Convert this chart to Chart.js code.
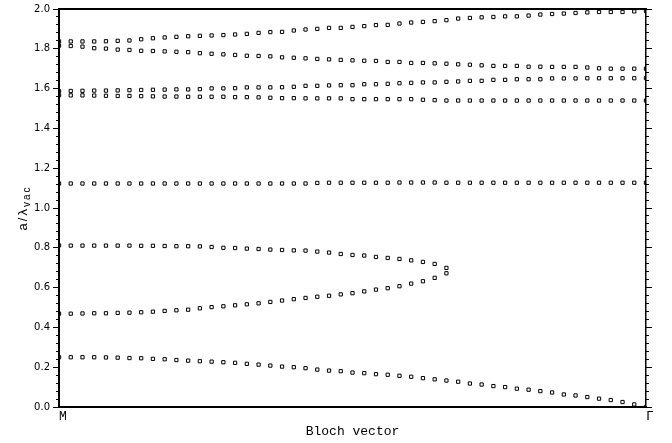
<!DOCTYPE html>
<html>
<head>
<meta charset="utf-8">
<script src="https://cdn.jsdelivr.net/npm/chart.js@4.4.1/dist/chart.umd.min.js"></script>
<style>
  html, body { margin: 0; padding: 0; background: #fff; }
  canvas { display: block; }
</style>
</head>
<body>
<canvas id="bands" width="672" height="443"></canvas>
<script>
// Sample positions along the Brillouin-zone path, M (0) to Γ (50)
const kPoints = Array.from({ length: 51 }, (_, i) => i);
const kEndLabels = ['M', 'Γ'];
const xTitle = 'Bloch vector';
const yTitleMain = 'a/λ';
const yTitleSub = 'vac';
const yMajorStep = 0.2;
const yMinorStep = 0.04;

// Normalised frequency a/λ_vac of each band at every k sample
const band1 = [0.250,0.250,0.250,0.250,0.249,0.248,0.246,0.245,0.242,0.240,0.236,0.233,0.230,
  0.228,0.225,0.222,0.217,0.213,0.208,0.203,0.200,0.195,0.188,0.183,0.180,0.173,0.170,0.165,0.162,0.157,0.152,0.145,0.139,0.133,
  0.127,0.118,0.113,0.105,0.100,0.092,0.087,0.080,0.073,0.063,0.058,0.050,0.042,0.035,0.025,0.013,0.000];

const band2 = [0.469,0.469,0.470,0.471,0.471,0.473,0.474,0.476,0.479,0.483,0.486,0.489,0.496,
  0.502,0.506,0.511,0.516,0.521,0.528,0.535,0.542,0.548,0.554,0.559,0.566,0.572,0.581,0.590,0.597,0.607,0.620,0.632,0.649,0.672,
  null,null,null,null,null,null,null,null,null,null,null,null,null,null,null,null,null];

const band3 = [0.812,0.811,0.811,0.811,0.811,0.811,0.811,0.810,0.810,0.809,0.808,0.808,
  0.807,0.804,0.800,0.799,0.796,0.794,0.791,0.789,0.787,0.786,0.781,0.776,0.769,0.764,0.761,0.754,0.749,0.744,0.737,0.729,0.719,0.699,
  null,null,null,null,null,null,null,null,null,null,null,null,null,null,null,null,null];

const band4 = [1.123,1.123,1.123,1.123,1.123,1.123,1.123,1.123,1.123,1.123,1.123,1.123,1.123,1.123,1.123,1.123,1.123,1.123,1.123,1.123,1.123,1.123,
  1.126,1.127,1.127,1.127,1.127,1.127,1.127,1.128,1.128,1.128,1.128,1.127,1.127,1.127,1.127,1.127,1.127,1.127,1.127,1.127,1.127,1.127,1.127,1.127,1.127,1.127,1.127,1.127,1.127];

const band5 = [1.567,1.566,1.566,1.565,1.564,1.563,1.563,1.562,1.561,1.560,1.560,1.559,
  1.559,1.559,1.559,1.557,1.557,1.556,1.554,1.552,1.552,1.551,1.551,1.551,1.551,1.547,1.547,1.547,1.547,1.547,1.547,1.544,1.542,1.540,
  1.540,1.540,1.540,1.540,1.540,1.540,1.540,1.540,1.540,1.540,1.540,1.540,1.540,1.540,1.540,1.540,1.540];

const band6 = [1.587,1.588,1.589,1.590,1.590,1.591,1.592,1.593,1.594,1.595,1.596,1.596,
  1.597,1.601,1.601,1.602,1.606,1.606,1.606,1.607,1.609,1.614,1.614,1.616,1.617,1.617,1.622,1.622,1.624,1.627,1.629,1.631,1.631,1.634,
  1.636,1.639,1.639,1.644,1.644,1.647,1.647,1.647,1.651,1.651,1.651,1.652,1.652,1.652,1.652,1.652,1.653];

const band7 = [1.816,1.814,1.811,1.803,1.801,1.796,1.794,1.790,1.789,1.787,1.785,1.783,1.778,
  1.775,1.772,1.769,1.765,1.764,1.762,1.757,1.755,1.752,1.749,1.747,1.744,1.742,1.740,1.739,1.734,1.734,1.729,1.729,1.727,1.725,
  1.722,1.720,1.717,1.714,1.714,1.714,1.710,1.710,1.709,1.709,1.709,1.706,1.702,1.700,1.700,1.700,1.700];

const band8 = [1.837,1.837,1.837,1.837,1.838,1.840,1.842,1.848,1.853,1.857,1.860,1.863,1.865,
  1.867,1.869,1.872,1.875,1.880,1.884,1.885,1.892,1.897,1.900,1.905,1.905,1.910,1.914,1.919,1.920,1.927,1.932,1.935,1.939,1.944,
  1.952,1.955,1.958,1.960,1.963,1.963,1.967,1.972,1.975,1.977,1.980,1.983,1.985,1.985,1.985,1.988,1.990];

const bands = [band1, band2, band3, band4, band5, band6, band7, band8];

const datasets = bands.map((band, b) => ({
  label: 'band ' + (b + 1),
  data: kPoints
    .map((k, i) => ({ x: k, y: band[i] }))
    .filter(p => p.y !== null),
  showLine: false,
  pointStyle: 'rect',
  pointRadius: 2.3,
  pointBorderWidth: 1,
  pointBorderColor: '#000',
  pointBackgroundColor: '#fff'
}));

// Rotated y-axis caption with a subscript
const yCaption = {
  id: 'yCaption',
  afterDraw(chart) {
    const ctx = chart.ctx;
    const mainFont = '13px "Liberation Sans"';
    const subFont = '10px "Liberation Sans"';
    ctx.save();
    ctx.translate(27, 208);
    ctx.rotate(-Math.PI / 2);
    ctx.fillStyle = '#000';
    ctx.textBaseline = 'alphabetic';
    ctx.textAlign = 'left';
    ctx.letterSpacing = '2px';
    ctx.font = mainFont;
    const w1 = ctx.measureText(yTitleMain).width;
    ctx.font = subFont;
    const w2 = ctx.measureText(yTitleSub).width;
    const x0 = -(w1 + w2) / 2;
    ctx.font = mainFont;
    ctx.fillText(yTitleMain, x0, 0);
    ctx.font = subFont;
    ctx.fillText(yTitleSub, x0 + w1, 3);
    ctx.restore();
  }
};

const tickFont = { family: 'DejaVu Sans', size: 10 };
const monoFont = { family: 'Liberation Mono', size: 13 };

new Chart(document.getElementById('bands'), {
  type: 'scatter',
  data: { datasets },
  plugins: [yCaption],
  options: {
    responsive: false,
    animation: false,
    devicePixelRatio: 1,
    layout: { padding: 0 },
    plugins: { legend: { display: false }, tooltip: { enabled: false } },
    scales: {
      x: {
        type: 'linear', position: 'bottom', min: 0, max: 50,
        afterFit: s => { s.height = 36; },
        afterBuildTicks: s => { s.ticks = [{ value: 0 }, { value: 50 }]; },
        ticks: {
          callback: v => (v === 0 ? kEndLabels[0] : kEndLabels[1]),
          align: 'start', padding: 2, autoSkip: false, maxRotation: 0,
          font: monoFont, color: '#000'
        },
        grid: { drawOnChartArea: false, drawTicks: false },
        border: { display: true, color: '#000', width: 2, z: 1 },
        title: { display: true, text: xTitle, font: monoFont, color: '#000', padding: { top: 0, bottom: 4 } }
      },
      xTop: {
        type: 'linear', position: 'top', min: 0, max: 50,
        afterFit: s => { s.height = 6; },
        ticks: { display: false },
        grid: { drawOnChartArea: false, drawTicks: false },
        border: { color: '#000', width: 2, z: 1 }
      },
      y: {
        type: 'linear', position: 'left', min: 0, max: 2, weight: 1,
        afterFit: s => { s.width = 59; },
        ticks: { stepSize: yMajorStep, padding: 3, font: tickFont, color: '#000', callback: v => v.toFixed(1) },
        grid: { drawOnChartArea: false, tickLength: 6, tickColor: '#000', tickWidth: 1 },
        border: { color: '#000', width: 2, z: 1 }
      },
      yMinor: {
        type: 'linear', position: 'left', min: 0, max: 2, weight: 0,
        afterFit: s => { s.width = 0; },
        ticks: { stepSize: yMinorStep, display: false },
        grid: { drawOnChartArea: false, tickLength: 3, tickColor: '#000', tickWidth: 1 },
        border: { display: false }
      },
      yRight: {
        type: 'linear', position: 'right', min: 0, max: 2, weight: 1,
        afterFit: s => { s.width = 26; },
        ticks: { stepSize: yMajorStep, display: false },
        grid: { drawOnChartArea: false, tickLength: 6, tickColor: '#000', tickWidth: 1 },
        border: { color: '#000', width: 1.5, z: 1 }
      },
      yRightMinor: {
        type: 'linear', position: 'right', min: 0, max: 2, weight: 0,
        afterFit: s => { s.width = 0; },
        ticks: { stepSize: yMinorStep, display: false },
        grid: { drawOnChartArea: false, tickLength: 3, tickColor: '#000', tickWidth: 1 },
        border: { display: false }
      }
    }
  }
});
</script>
</body>
</html>
